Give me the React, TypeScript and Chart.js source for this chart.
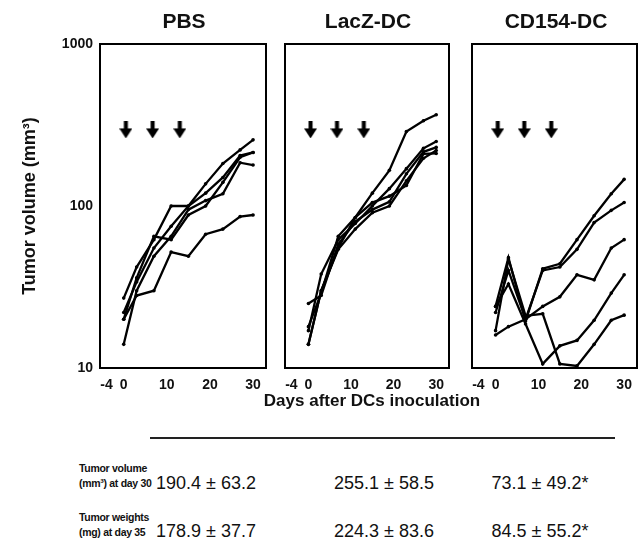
import React, { useEffect, useRef } from "react";
import { Chart, registerables } from "chart.js";
Chart.register(...registerables);

const FONT = 'Arial, "Liberation Sans", Helvetica, sans-serif';

// ---- data ----
const days = [0, 3, 7, 11, 15, 19, 23, 27, 30];
const xTickValues = [-4, 0, 10, 20, 30];
const yTickValues = [10, 100, 1000];
const injectionDays = [0.5, 6.7, 13];
const arrowLevel = 295;

const panelTitles = ["PBS", "LacZ-DC", "CD154-DC"];

const pbsMouse1 = [20, 28, 30, 52, 49, 67, 72, 86, 88];
const pbsMouse2 = [27, 42, 62, 100, 100, 137, 183, 222, 256];
const pbsMouse3 = [22, 34, 55, 75, 100, 120, 150, 205, 214];
const pbsMouse4 = [14, 30, 49, 65, 95, 108, 119, 185, 179];
const pbsMouse5 = [20, 36, 65, 62, 88, 100, 140, 200, 214];

const lacZMouse1 = [14, 30, 55, 85, 120, 166, 288, 336, 366];
const lacZMouse2 = [17, 38, 62, 78, 100, 128, 170, 227, 250];
const lacZMouse3 = [25, 28, 58, 80, 95, 106, 158, 216, 230];
const lacZMouse4 = [14, 30, 54, 72, 91, 100, 143, 197, 220];
const lacZMouse5 = [18, 29, 65, 85, 105, 115, 134, 210, 211];

const cd154Mouse1 = [24, 48, 19.5, 41, 44, 62, 87, 119, 146];
const cd154Mouse2 = [22, 40, 20, 40, 42, 54, 79, 94, 105];
const cd154Mouse3 = [16, 18, 20, 24, 27.5, 37.6, 35, 55, 62];
const cd154Mouse4 = [24, 33, 18.7, 10.6, 13.7, 14.8, 19.7, 29, 37.6];
const cd154Mouse5 = [17, 47, 21, 21.6, 10.6, 10.3, 14, 19.7, 21.2];

const tableRowLabels = [
  ["Tumor volume", "(mm\u00b3) at day 30"],
  ["Tumor weights", "(mg) at day 35"],
];
const volumeValues = ["190.4 \u00b1 63.2", "255.1 \u00b1 58.5", "73.1 \u00b1 49.2*"];
const weightValues = ["178.9 \u00b1 37.7", "224.3 \u00b1 83.6", "84.5 \u00b1 55.2*"];

function makeArrow(): HTMLCanvasElement {
  const c = document.createElement("canvas");
  c.width = 13;
  c.height = 17;
  const g = c.getContext("2d")!;
  g.fillStyle = "#000";
  g.fillRect(4.5, 0, 4, 8);
  g.beginPath();
  g.moveTo(0, 7);
  g.lineTo(13, 7);
  g.lineTo(6.5, 17);
  g.closePath();
  g.fill();
  return c;
}

const boxPlugin = {
  id: "panelBox",
  afterDatasetsDraw(chart: any) {
    const { ctx, chartArea: a } = chart;
    ctx.save();
    ctx.strokeStyle = "#000";
    ctx.lineWidth = 2;
    ctx.strokeRect(a.left, a.top, a.right - a.left, a.bottom - a.top);
    ctx.restore();
  },
};

function buildConfig(series: number[][], showY: boolean, pad: any): any {
  const arrow = makeArrow();
  return {
    type: "line",
    data: {
      datasets: [
        ...series.map((s) => ({
          data: s.map((v, i) => ({ x: days[i], y: v })),
          borderColor: "#000",
          borderWidth: 2.3,
          pointRadius: 1.8,
          pointBackgroundColor: "#000",
          pointBorderWidth: 0,
          tension: 0,
          fill: false,
        })),
        {
          data: injectionDays.map((d) => ({ x: d, y: arrowLevel })),
          showLine: false,
          pointStyle: arrow,
          pointRadius: 8,
        },
      ],
    },
    options: {
      responsive: false,
      animation: false,
      devicePixelRatio: 1,
      layout: { padding: pad },
      plugins: { legend: { display: false }, tooltip: { enabled: false }, title: { display: false } },
      scales: {
        x: {
          type: "linear",
          min: -5.5,
          max: 33,
          grid: { display: false, drawTicks: false },
          border: { display: false },
          afterBuildTicks: (s: any) => {
            s.ticks = xTickValues.map((v) => ({ value: v }));
          },
          afterFit: (s: any) => {
            s.height = 32;
          },
          ticks: {
            font: { family: FONT, size: 14, weight: "bold" },
            color: "#111",
            padding: 9,
            autoSkip: false,
            maxRotation: 0,
            callback: (v: any) => String(v),
          },
        },
        y: {
          type: "logarithmic",
          min: 10,
          max: 1000,
          display: showY,
          grid: { display: false, drawTicks: false },
          border: { display: false },
          afterBuildTicks: (s: any) => {
            s.ticks = yTickValues.map((v) => ({ value: v }));
          },
          afterFit: (s: any) => {
            s.width = showY ? 100 : 0;
          },
          ticks: {
            font: { family: FONT, size: 14, weight: "bold" },
            color: "#111",
            padding: 7,
            autoSkip: false,
            callback: (v: any) => String(v),
          },
          title: {
            display: showY,
            text: "Tumor volume (mm\u00b3)",
            font: { family: FONT, size: 18, weight: "bold" },
            color: "#111",
            padding: { top: 19, bottom: 0 },
          },
        },
      },
    },
    plugins: [boxPlugin],
  };
}

export default function App() {
  const c1 = useRef<HTMLCanvasElement>(null);
  const c2 = useRef<HTMLCanvasElement>(null);
  const c3 = useRef<HTMLCanvasElement>(null);

  useEffect(() => {
    const charts = [
      new Chart(
        c1.current!,
        buildConfig([pbsMouse1, pbsMouse2, pbsMouse3, pbsMouse4, pbsMouse5], true, { top: 44, right: 5, left: 0, bottom: 0 })
      ),
      new Chart(
        c2.current!,
        buildConfig([lacZMouse1, lacZMouse2, lacZMouse3, lacZMouse4, lacZMouse5], false, { top: 44, right: 5, left: 13, bottom: 0 })
      ),
      new Chart(
        c3.current!,
        buildConfig([cd154Mouse1, cd154Mouse2, cd154Mouse3, cd154Mouse4, cd154Mouse5], false, { top: 44, right: 5, left: 12, bottom: 0 })
      ),
    ];
    return () => charts.forEach((c) => c.destroy());
  }, []);

  const abs = (o: any): React.CSSProperties => ({ position: "absolute", ...o });
  const titleCenters = [184, 368, 556];
  const valueCenters = [206, 384, 540];

  return (
    <div
      style={{
        position: "fixed",
        left: 0,
        top: 0,
        width: 639,
        height: 542,
        overflow: "hidden",
        background: "#fff",
        fontFamily: FONT,
        color: "#111",
      }}
    >
      <canvas ref={c1} width={275} height={400} style={abs({ left: 0, top: 0 })} />
      <canvas ref={c2} width={186} height={400} style={abs({ left: 272, top: 0 })} />
      <canvas ref={c3} width={186} height={400} style={abs({ left: 460, top: 0 })} />

      {panelTitles.map((t, i) => (
        <div
          key={t}
          style={abs({
            left: titleCenters[i] - 80,
            width: 160,
            top: 9,
            textAlign: "center",
            fontSize: 21,
            fontWeight: "bold",
            lineHeight: "24px",
          })}
        >
          {t}
        </div>
      ))}

      <div
        style={abs({ left: 222, width: 300, top: 391, textAlign: "center", fontSize: 17, fontWeight: "bold", lineHeight: "20px" })}
      >
        Days after DCs inoculation
      </div>
      <div style={abs({ left: 150, width: 465, top: 437, height: 2, background: "#222" })} />

      {tableRowLabels.map((lbl, r) => (
        <div
          key={r}
          style={abs({
            left: 79,
            top: r === 0 ? 461 : 510,
            fontSize: 10.5,
            fontWeight: "bold",
            lineHeight: "15px",
            letterSpacing: "-0.3px",
          })}
        >
          {lbl[0]}
          <br />
          {lbl[1]}
        </div>
      ))}
      {volumeValues.map((v, i) => (
        <div
          key={"v" + i}
          style={abs({ left: valueCenters[i] - 70, width: 140, top: 473, textAlign: "center", fontSize: 18, lineHeight: "20px" })}
        >
          {v}
        </div>
      ))}
      {weightValues.map((v, i) => (
        <div
          key={"w" + i}
          style={abs({ left: valueCenters[i] - 70, width: 140, top: 521, textAlign: "center", fontSize: 18, lineHeight: "20px" })}
        >
          {v}
        </div>
      ))}
    </div>
  );
}
